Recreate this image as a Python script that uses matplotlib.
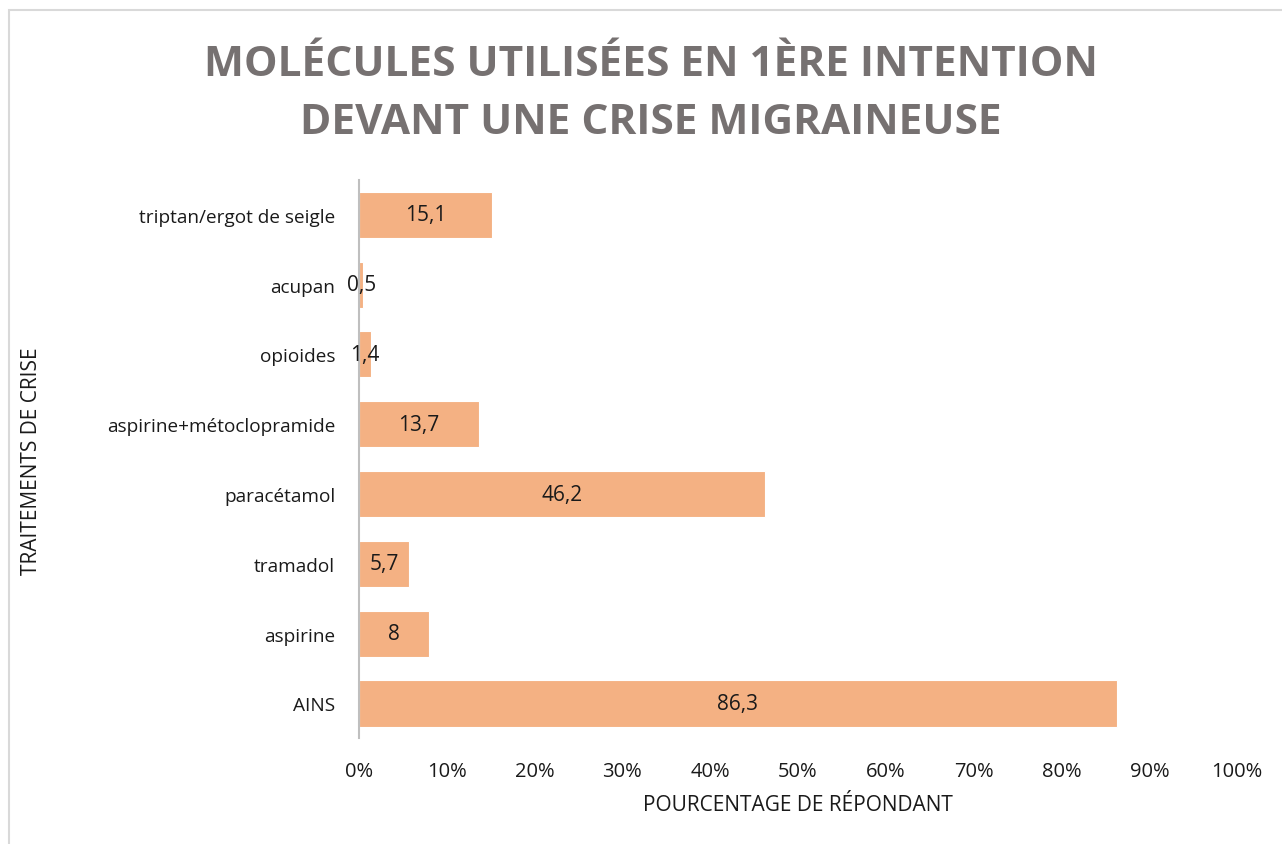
import matplotlib.pyplot as plt
from matplotlib.patches import Rectangle
from matplotlib.ticker import FuncFormatter

plt.rcParams['font.family'] = ['Open Sans', 'DejaVu Sans']

# data, bottom to top
categories = ["AINS", "aspirine", "tramadol", "paracétamol",
              "aspirine+métoclopramide", "opioides", "acupan",
              "triptan/ergot de seigle"]
values = [86.3, 8, 5.7, 46.2, 13.7, 1.4, 0.5, 15.1]
value_labels = ["86,3", "8", "5,7", "46,2", "13,7", "1,4", "0,5", "15,1"]
x_ticks = [0, 10, 20, 30, 40, 50, 60, 70, 80, 90, 100]

fig = plt.figure(figsize=(12.82, 8.45), dpi=100)
fig.patch.set_facecolor('white')
ax = fig.add_axes([0.28, 0.125, 0.685, 0.661])

pos = list(range(len(categories)))
bars = ax.barh(pos, values, height=0.66, color='#F4B183', edgecolor='white', linewidth=0.8)

for b, lab in zip(bars, value_labels):
    ax.text(b.get_width() / 2, b.get_y() + b.get_height() / 2, lab,
            ha='center', va='center', fontsize=15, color='#1a1a1a')

ax.set_xlim(0, 100)
ax.set_ylim(-0.5, len(categories) - 0.5)
ax.set_xticks(x_ticks)
ax.xaxis.set_major_formatter(FuncFormatter(lambda v, p: f"{int(v)}%"))
ax.set_yticks(pos)
ax.set_yticklabels(categories)
ax.tick_params(axis='x', length=0, pad=16, labelsize=14.5, labelcolor='#1a1a1a')
ax.tick_params(axis='y', length=0, pad=17, labelsize=13.7, labelcolor='#1a1a1a')

for s in ['top', 'right', 'bottom']:
    ax.spines[s].set_visible(False)
ax.spines['left'].set_color('#BFBFBF')
ax.spines['left'].set_linewidth(1.5)

fig.text(798 / 1282, 1 - 806 / 845, "POURCENTAGE DE RÉPONDANT", ha='center', va='center',
         fontsize=15, color='#1a1a1a')
fig.text(32 / 1282, 1 - 461 / 845, "TRAITEMENTS DE CRISE", ha='center', va='center',
         rotation=90, fontsize=15, color='#1a1a1a')

fig.text(651 / 1282, 1 - 66 / 845, "MOLÉCULES UTILISÉES EN 1ÈRE INTENTION",
         ha='center', va='center', fontsize=30.5, fontweight='bold', color='#767171')
fig.text(651 / 1282, 1 - 124 / 845, "DEVANT UNE CRISE MIGRAINEUSE",
         ha='center', va='center', fontsize=30.5, fontweight='bold', color='#767171')

# chart frame
fig.patches.append(Rectangle((9 / 1282, -0.1), 1.2, 1.1 - 11 / 845, transform=fig.transFigure,
                             fill=False, edgecolor='#D9D9D9', linewidth=1.5))

fig.savefig('out.png', dpi=100, facecolor='white')
